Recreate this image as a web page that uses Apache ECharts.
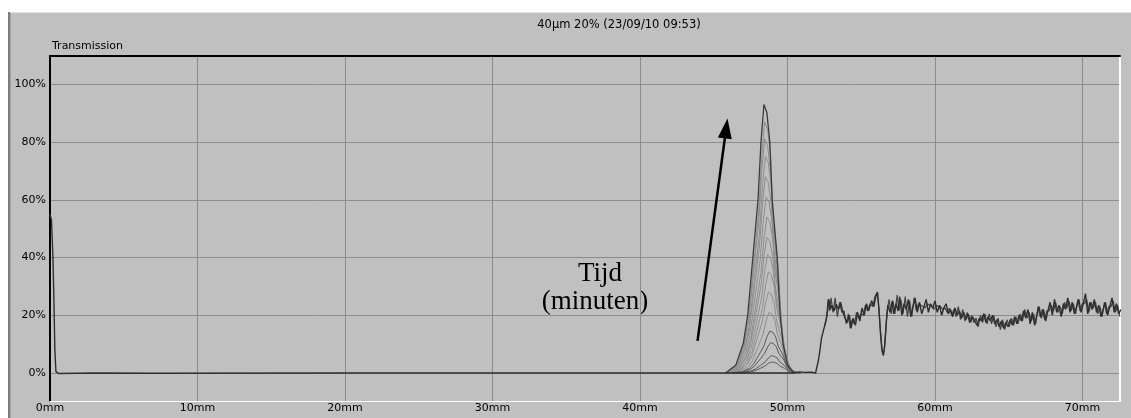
<!DOCTYPE html>
<html><head><meta charset="utf-8">
<script src="https://cdn.jsdelivr.net/npm/echarts@6/dist/echarts.min.js"></script>
<style>html,body{margin:0;padding:0;background:#fff}#c{width:1131px;height:418px}</style>
</head><body><div id="c"></div><script>
// ---- data ----
const chartTitle = '40µm 20% (23/09/10 09:53)';
const yAxisTitle = 'Transmission';
const annotationLines = ['Tijd', '(minuten)'];
const xTickValues = [0, 10, 20, 30, 40, 50, 60, 70];
const yTickValues = [0, 20, 40, 60, 80, 100];
const xRange = [0, 72.54];
const yRange = [-9.7, 109.8];
const arrowFrom = [43.9, 11.1];
const arrowTo = [45.84, 84.7];

// start spike + flat baseline (mm, %)
const baseline = [[0,55],[0.1,53],[0.2,40],[0.27,24],[0.33,8],[0.4,0.5],[0.6,-0.2],[3,0],[7,-0.1],[20,0],[45.8,0],[50.4,0],[50.8,0.4],[51.2,0.2],[51.6,0.3],[51.9,0]];
// noisy plateau after 52 mm (first trace)
const plateau = [[52.0,0.3],[52.1,4.5],[52.2,8],[52.3,12],[52.45,15],[52.6,18],[52.7,21],[52.8,25.6],[52.9,22],[53.0,23.5],[53.15,21.5],[53.3,23.8],[53.45,22],[53.6,24.5],[53.75,21],[53.9,19],[54.05,17.5],[54.2,20],[54.3,15.5],[54.45,19],[54.6,16.5],[54.75,21],[54.9,18],[55.05,22.5],[55.2,20],[55.35,24],[55.5,21.5],[55.7,25],[55.85,23],[56.0,27],[56.1,28],[56.2,22],[56.3,14],[56.4,8],[56.5,6],[56.6,10],[56.7,18],[56.8,23.5],[56.95,21],[57.1,25],[57.2,20.5],[57.35,24],[57.5,21.5],[57.6,26.5],[57.75,20],[57.9,24],[58.05,22],[58.2,25.5],[58.35,19.5],[58.5,23],[58.65,26],[58.8,21],[58.95,24.5],[59.1,20.5],[59.25,23],[59.4,25.5],[59.55,21],[59.7,24],[59.85,22.5],[60.0,25],[60.15,21],[60.3,23.5],[60.45,20],[60.6,22.5],[60.75,24],[60.9,20.5],[61.05,22],[61.2,19.5],[61.35,22.5],[61.5,20],[61.65,21.5],[61.8,19],[61.95,21],[62.1,18.5],[62.25,20.5],[62.4,17.5],[62.55,19.5],[62.7,18],[62.85,16.5],[63.0,19],[63.15,18],[63.3,20.5],[63.45,17.5],[63.6,19.5],[63.75,18],[63.9,20],[64.05,17],[64.2,18.5],[64.35,16],[64.5,18],[64.65,15.5],[64.8,17.5],[64.95,16],[65.1,18.5],[65.25,16.5],[65.4,19.5],[65.55,17],[65.7,20],[65.85,18],[66.0,21.5],[66.15,19],[66.3,22],[66.45,17],[66.6,21],[66.75,16.5],[66.9,20],[67.05,23],[67.2,19],[67.35,22],[67.5,18],[67.65,21.5],[67.8,24.5],[67.95,20],[68.1,25.5],[68.25,21],[68.4,23.5],[68.55,19.5],[68.7,24],[68.85,22],[69.0,26],[69.15,21],[69.3,24.5],[69.45,20.5],[69.6,23],[69.75,25.5],[69.9,21],[70.05,24],[70.2,27.5],[70.35,20.5],[70.5,24.5],[70.65,22],[70.8,25.5],[70.95,21],[71.1,23.5],[71.25,19.5],[71.4,22],[71.55,24.5],[71.7,20],[71.85,23],[72.0,26],[72.15,21],[72.3,24],[72.45,20.5],[72.6,22]];
// second overlapping trace of the plateau (later time step)
const plateau2 = [[52.5,16],[52.65,19],[52.75,25.5],[52.85,21.5],[52.95,26],[53.08,21],[53.23,26],[53.38,19.5],[53.53,24.5],[53.68,21],[53.83,21.5],[53.98,17],[54.13,20.5],[54.25,15.5],[54.38,18.5],[54.53,17],[54.68,21],[54.83,19],[54.98,20.5],[55.13,20],[55.28,23.5],[55.43,21.5],[55.6,24],[55.78,23],[55.93,26.5],[56.05,27.5],[56.15,25],[56.25,18],[56.35,11],[56.45,6.5],[56.55,7.5],[56.65,14],[56.75,21],[56.88,25.5],[57.03,20.5],[57.15,25],[57.28,20.5],[57.43,27],[57.55,21.5],[57.68,25.5],[57.83,20.5],[57.98,26.5],[58.13,19.5],[58.28,25],[58.43,19.5],[58.58,26],[58.73,21.5],[58.88,24],[59.03,23.5],[59.18,23],[59.33,22.5],[59.48,24],[59.63,23.5],[59.78,23],[59.93,22],[60.08,23.5],[60.23,23],[60.38,23],[60.53,22],[60.68,22.5],[60.83,21],[60.98,22.5],[61.13,20],[61.28,22],[61.43,19.5],[61.58,23],[61.73,18.5],[61.88,22],[62.03,18],[62.18,21],[62.33,17.5],[62.48,20],[62.63,17.5],[62.78,19],[62.93,16],[63.08,20],[63.23,17.5],[63.38,20.5],[63.53,17],[63.68,20.5],[63.83,17],[63.98,20],[64.13,16],[64.28,19],[64.43,15],[64.58,18.5],[64.73,15],[64.88,18.5],[65.03,16],[65.18,19],[65.33,16.5],[65.48,19.5],[65.63,17],[65.78,20.5],[65.93,18],[66.08,22],[66.23,19],[66.38,21],[66.53,18],[66.68,20.5],[66.83,17],[66.98,23],[67.13,19.5],[67.28,22],[67.43,18.5],[67.58,21.5],[67.73,21.5],[67.88,23.5],[68.03,21.5],[68.18,24.5],[68.33,21],[68.48,23],[68.63,20.5],[68.78,24.5],[68.93,22.5],[69.08,25],[69.23,21.5],[69.38,24],[69.53,20.5],[69.68,25.5],[69.83,21.5],[69.98,24],[70.13,24],[70.28,25.5],[70.43,21],[70.58,24.5],[70.73,22.5],[70.88,24.5],[71.03,20.5],[71.18,23],[71.33,19.5],[71.48,24.5],[71.63,20.5],[71.78,23],[71.93,23],[72.08,25],[72.23,21],[72.38,23.5],[72.53,19.5]];

// family of peak curves (one per time step), smallest last
const peak16 = [[46.3,0],[47.0,0.1],[47.5,0.4],[47.8,0.8],[48.15,1.6],[48.5,2.5],[48.7,3.3],[48.9,3.8],[49.1,3.7],[49.3,3.3],[49.46,2.5],[49.8,1.6],[50.0,0.8],[50.2,0.4],[50.5,0.1],[50.9,0]];
const peak15 = [[46.3,0],[47.0,0.2],[47.5,0.7],[47.8,1.3],[48.15,2.6],[48.5,3.9],[48.7,5.2],[48.9,6],[49.1,5.8],[49.3,5.2],[49.46,3.9],[49.8,2.6],[50.0,1.3],[50.2,0.7],[50.5,0.2],[50.9,0]];
const peak14 = [[46.25,0],[46.95,0.3],[47.45,1.2],[47.75,2.3],[48.1,4.5],[48.45,6.8],[48.65,9],[48.85,10.5],[49.05,10.2],[49.25,9],[49.41,6.8],[49.75,4.5],[49.95,2.3],[50.15,1.2],[50.45,0.3],[50.85,0]];
const peak13 = [[46.2,0],[46.9,0.4],[47.4,1.6],[47.7,3.1],[48.05,6.2],[48.4,9.4],[48.6,12.5],[48.8,14.5],[49.0,14.1],[49.2,12.5],[49.36,9.4],[49.7,6.2],[49.9,3.1],[50.1,1.6],[50.4,0.4],[50.8,0]];
const peak12 = [[46.15,0],[46.85,0.6],[47.35,2.3],[47.65,4.5],[48.0,9],[48.35,13.5],[48.55,18.1],[48.75,21],[48.95,20.4],[49.15,18.1],[49.31,13.5],[49.65,9],[49.85,4.5],[50.05,2.3],[50.35,0.6],[50.75,0]];
const peak11 = [[46.1,0],[46.8,0.8],[47.3,3.1],[47.6,6],[47.95,12],[48.3,18.1],[48.5,24.1],[48.7,28],[48.9,27.2],[49.1,24.1],[49.26,18.1],[49.6,12],[49.8,6],[50.0,3.1],[50.3,0.8],[50.7,0]];
const peak10 = [[46.1,0],[46.8,1.1],[47.3,3.9],[47.6,7.5],[47.95,15.1],[48.3,22.6],[48.5,30.1],[48.7,35],[48.9,34],[49.1,30.1],[49.26,22.6],[49.6,15.1],[49.8,7.5],[50.0,3.9],[50.3,1.1],[50.7,0]];
const peak9 = [[46.05,0],[46.75,1.2],[47.25,4.5],[47.55,8.8],[47.9,17.6],[48.25,26.4],[48.45,35.3],[48.65,41],[48.85,39.8],[49.05,35.3],[49.21,26.4],[49.55,17.6],[49.75,8.8],[49.95,4.5],[50.25,1.2],[50.65,0]];
const peak8 = [[46.0,0],[46.7,1.4],[47.2,5.2],[47.5,10.1],[47.85,20.2],[48.2,30.3],[48.4,40.4],[48.6,47],[48.8,45.6],[49.0,40.4],[49.16,30.3],[49.5,20.2],[49.7,10.1],[49.9,5.2],[50.2,1.4],[50.6,0]];
const peak7 = [[46.0,0],[46.7,1.6],[47.2,5.9],[47.5,11.6],[47.85,23.2],[48.2,34.8],[48.4,46.4],[48.6,54],[48.8,52.4],[49.0,46.4],[49.16,34.8],[49.5,23.2],[49.7,11.6],[49.9,5.9],[50.2,1.6],[50.6,0]];
const peak6 = [[45.95,0],[46.65,1.8],[47.15,6.7],[47.45,13.1],[47.8,26.2],[48.15,39.3],[48.35,52.5],[48.55,61],[48.75,59.2],[48.95,52.5],[49.11,39.3],[49.45,26.2],[49.65,13.1],[49.85,6.7],[50.15,1.8],[50.55,0]];
const peak5 = [[45.9,0],[46.6,2],[47.1,7.5],[47.4,14.6],[47.75,29.2],[48.1,43.9],[48.3,58.5],[48.5,68],[48.7,66],[48.9,58.5],[49.06,43.9],[49.4,29.2],[49.6,14.6],[49.8,7.5],[50.1,2],[50.5,0]];
const peak4 = [[45.9,0],[46.6,2.3],[47.1,8.3],[47.4,16.1],[47.75,32.3],[48.1,48.4],[48.3,64.5],[48.5,75],[48.7,72.8],[48.9,64.5],[49.06,48.4],[49.4,32.3],[49.6,16.1],[49.8,8.3],[50.1,2.3],[50.5,0]];
const peak3 = [[45.85,0],[46.55,2.4],[47.05,8.9],[47.35,17.4],[47.7,34.8],[48.05,52.2],[48.25,69.7],[48.45,81],[48.65,78.6],[48.85,69.7],[49.01,52.2],[49.35,34.8],[49.55,17.4],[49.75,8.9],[50.05,2.4],[50.45,0]];
const peak2 = [[45.85,0],[46.55,2.6],[47.05,9.6],[47.35,18.7],[47.7,37.4],[48.05,56.1],[48.25,74.8],[48.45,87],[48.65,84.4],[48.85,74.8],[49.01,56.1],[49.35,37.4],[49.55,18.7],[49.75,9.6],[50.05,2.6],[50.45,0]];
const peak1 = [[45.8,0],[46.5,2.8],[47.0,10.2],[47.3,20],[47.65,40],[48.0,60],[48.2,80],[48.4,93],[48.6,90.2],[48.8,80],[48.96,60],[49.3,40],[49.5,20],[49.7,10.2],[50.0,2.8],[50.4,0]];
const innerPeaks = [peak2, peak3, peak4, peak5, peak6, peak7, peak8, peak9, peak10, peak11, peak12];
const smallPeaks = [peak13, peak14, peak15, peak16];

// ---- chart ----
const FONT = '"DejaVu Sans", sans-serif';
const chart = echarts.init(document.getElementById('c'), null, {renderer: 'canvas'});
const series = [];
innerPeaks.forEach(d => series.push({type:'line', data:d, symbol:'none', silent:true,
  lineStyle:{color:'#8e8e8e', width:1}}));
smallPeaks.forEach(d => series.push({type:'line', data:d, symbol:'none', silent:true,
  lineStyle:{color:'#5a5a5a', width:1}}));
series.push({type:'line', data:peak1, symbol:'none', silent:true, lineStyle:{color:'#3c3c3c', width:1.3}});
series.push({type:'line', data:plateau2, symbol:'none', silent:true, lineStyle:{color:'#444444', width:1.2}});
series.push({type:'line', data:baseline.concat(plateau), symbol:'none', silent:true,
  lineStyle:{color:'#2e2e2e', width:1.4},
  markLine:{silent:true, symbol:['none','triangle'], symbolSize:[14,20],
    lineStyle:{color:'#000', width:2.5, type:'solid'}, label:{show:false},
    data:[[{coord:arrowFrom},{coord:arrowTo}]]}});

chart.setOption({
  animation:false,
  backgroundColor:'#ffffff',
  grid:{left:50, right:11, top:56, bottom:17, containLabel:false},
  xAxis:[{
    type:'value', min:xRange[0], max:xRange[1], position:'bottom',
    axisLine:{show:true, onZero:false, lineStyle:{color:'#ffffff', width:1}},
    axisTick:{show:false, customValues:xTickValues},
    axisLabel:{customValues:xTickValues, formatter:'{value}mm', color:'#000', fontFamily:FONT, fontSize:11, margin:2},
    splitLine:{show:true, lineStyle:{color:'#8c8c8c', width:1}}
  },{
    type:'value', min:xRange[0], max:xRange[1], position:'top',
    axisLine:{show:true, onZero:false, lineStyle:{color:'#000', width:2}},
    axisTick:{show:false}, axisLabel:{show:false}, splitLine:{show:false}
  }],
  yAxis:[{
    type:'value', min:yRange[0], max:yRange[1], position:'left',
    axisLine:{show:true, onZero:false, lineStyle:{color:'#000', width:2}},
    axisTick:{show:false, customValues:yTickValues},
    axisLabel:{customValues:yTickValues, formatter:'{value}%', color:'#000', fontFamily:FONT, fontSize:11, margin:4},
    splitLine:{show:true, lineStyle:{color:'#8c8c8c', width:1}}
  },{
    type:'value', min:yRange[0], max:yRange[1], position:'right',
    axisLine:{show:true, onZero:false, lineStyle:{color:'#ffffff', width:2}},
    axisTick:{show:false}, axisLabel:{show:false}, splitLine:{show:false}
  }],
  graphic:[
    {type:'rect', z:-10, silent:true, shape:{x:8, y:12, width:1123, height:406}, style:{fill:'#c0c0c0'}},
    {type:'rect', z:-9, silent:true, shape:{x:8, y:12, width:2, height:406}, style:{fill:'#7c7c7c'}},
    {type:'rect', z:-9, silent:true, shape:{x:10, y:12, width:1, height:406}, style:{fill:'#a4a4a4'}},
    {type:'rect', z:-9, silent:true, shape:{x:10, y:12, width:1121, height:1}, style:{fill:'#e4e4e4'}},
    {type:'text', silent:true, x:619, y:25, style:{text:chartTitle, font:'11.5px "DejaVu Sans"', fill:'#000', align:'center', verticalAlign:'middle'}},
    {type:'text', silent:true, x:52, y:46, style:{text:yAxisTitle, font:'11px "DejaVu Sans"', fill:'#000', align:'left', verticalAlign:'middle'}},
    {type:'text', silent:true, x:600, y:274, style:{text:annotationLines[0], font:'27px "Liberation Serif"', fill:'#000', align:'center', verticalAlign:'middle'}},
    {type:'text', silent:true, x:595, y:302, style:{text:annotationLines[1], font:'27px "Liberation Serif"', fill:'#000', align:'center', verticalAlign:'middle'}}
  ],
  series: series
});
</script></body></html>
